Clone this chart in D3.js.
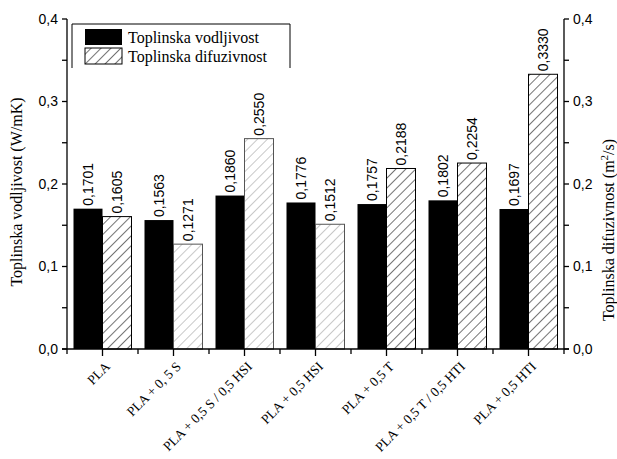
<!DOCTYPE html>
<html><head><meta charset="utf-8">
<script src="https://cdn.jsdelivr.net/npm/d3@7/dist/d3.min.js"></script>
<style>body{margin:0;background:#fff}svg{display:block}</style>
</head><body>
<script>
const categories = ["PLA","PLA + 0, 5 S","PLA + 0,5 S / 0,5 HSI","PLA + 0,5 HSI","PLA + 0,5 T","PLA + 0,5 T / 0,5 HTI","PLA + 0,5 HTI"];
const vodljivost = [0.1701,0.1563,0.1860,0.1776,0.1757,0.1802,0.1697];
const difuzivnost = [0.1605,0.1271,0.2550,0.1512,0.2188,0.2254,0.3330];
const vodLabels = ["0,1701","0,1563","0,1860","0,1776","0,1757","0,1802","0,1697"];
const difLabels = ["0,1605","0,1271","0,2550","0,1512","0,2188","0,2254","0,3330"];
const yTicks = [0,0.1,0.2,0.3,0.4];
const yTickLabels = ["0,0","0,1","0,2","0,3","0,4"];
const yMinor = [0.05,0.15,0.25,0.35];
const lightHatch = [false,true,true,true,false,false,false];
const seriesNames = ["Toplinska vodljivost","Toplinska difuzivnost"];

const W=617,H=459;
const L=67,R=564,T=19,B=349;
const svg=d3.select("body").append("svg").attr("width",W).attr("height",H);
const defs=svg.append("defs");
function hatch(id,color){
  const p=defs.append("pattern").attr("id",id).attr("patternUnits","userSpaceOnUse")
    .attr("width",7).attr("height",7).attr("patternTransform","rotate(45)");
  p.append("line").attr("x1",0).attr("y1",0).attr("x2",0).attr("y2",7)
    .attr("stroke",color).attr("stroke-width",1.1);
}
hatch("h1","#000");
hatch("h2","#999");

const x=d3.scaleBand().domain(categories).range([L,R]).padding(0);
const y=d3.scaleLinear().domain([0,0.4]).range([B,T]);
const y2=d3.scaleLinear().domain([0,0.4]).range([B,T]);
const bw=29;

const sans="'Liberation Sans', Arial, sans-serif";
const serif="'Liberation Serif', 'Times New Roman', serif";

// bars
const g=svg.append("g");
categories.forEach((c,i)=>{
  const cx=x(c)+x.bandwidth()/2;
  g.append("rect").attr("x",cx-bw).attr("y",y(vodljivost[i])).attr("width",bw)
    .attr("height",B-y(vodljivost[i])).attr("fill","#000");
  g.append("rect").attr("x",cx).attr("y",y2(difuzivnost[i])).attr("width",bw)
    .attr("height",B-y2(difuzivnost[i])).attr("fill",lightHatch[i]?"url(#h2)":"url(#h1)")
    .attr("stroke",lightHatch[i]?"#555":"#000").attr("stroke-width",1);
  g.append("text").attr("transform",`translate(${cx-bw/2+5},${y(vodljivost[i])-3}) rotate(-90)`)
    .attr("font-family",sans).attr("font-size",14).text(vodLabels[i]);
  g.append("text").attr("transform",`translate(${cx+bw/2+5},${y2(difuzivnost[i])-3}) rotate(-90)`)
    .attr("font-family",sans).attr("font-size",14).text(difLabels[i]);
});

// axes
const ax=svg.append("g").attr("stroke","#000").attr("stroke-width",1.3);
ax.append("line").attr("x1",L).attr("x2",L).attr("y1",T).attr("y2",B);
ax.append("line").attr("x1",R).attr("x2",R).attr("y1",T).attr("y2",B);
ax.append("line").attr("x1",L-5).attr("x2",R+5).attr("y1",B).attr("y2",B);
yTicks.concat(yMinor).forEach(v=>{
  ax.append("line").attr("x1",L-5).attr("x2",L).attr("y1",y(v)).attr("y2",y(v));
  ax.append("line").attr("x1",R).attr("x2",R+5).attr("y1",y2(v)).attr("y2",y2(v));
});
categories.forEach((c,i)=>{
  const cx=x(c)+x.bandwidth()/2;
  ax.append("line").attr("x1",cx).attr("x2",cx).attr("y1",B).attr("y2",B+7);
  ax.append("line").attr("x1",x(c)).attr("x2",x(c)).attr("y1",B).attr("y2",B+5);
});
ax.append("line").attr("x1",R).attr("x2",R).attr("y1",B).attr("y2",B+5);

yTicks.forEach((v,i)=>{
  svg.append("text").attr("x",L-9).attr("y",y(v)).attr("dy","0.35em").attr("text-anchor","end")
    .attr("font-family",sans).attr("font-size",14).text(yTickLabels[i]);
  svg.append("text").attr("x",R+9).attr("y",y2(v)).attr("dy","0.35em").attr("text-anchor","start")
    .attr("font-family",sans).attr("font-size",14).text(yTickLabels[i]);
});

categories.forEach((c)=>{
  const cx=x(c)+x.bandwidth()/2;
  svg.append("text").attr("transform",`translate(${cx+5},${B+15}) rotate(-45)`)
    .attr("text-anchor","end").attr("dy","0.35em")
    .attr("font-family",serif).attr("font-size",13.5).text(c);
});

// axis titles
svg.append("text").attr("transform",`translate(22,192) rotate(-90)`).attr("text-anchor","middle")
  .attr("font-family",serif).attr("font-size",16).text("Toplinska vodljivost (W/mK)");
const t2=svg.append("text").attr("transform",`translate(614,230) rotate(-90)`).attr("text-anchor","middle")
  .attr("font-family",serif).attr("font-size",16);
t2.append("tspan").text("Toplinska difuzivnost (m");
t2.append("tspan").attr("font-size",11).attr("dy",-6).text("2");
t2.append("tspan").attr("dy",6).text("/s)");

// legend
const lg=svg.append("g");
lg.append("path").attr("d","M72,68 V24 H290 V68").attr("fill","none").attr("stroke","#000").attr("stroke-width",1);
lg.append("rect").attr("x",85).attr("y",29).attr("width",37).attr("height",16).attr("fill","#000");
lg.append("rect").attr("x",85).attr("y",48).attr("width",37).attr("height",16).attr("fill","url(#h1)").attr("stroke","#000");
lg.append("text").attr("x",128).attr("y",43).attr("font-family",serif).attr("font-size",16).text(seriesNames[0]);
lg.append("text").attr("x",128).attr("y",62).attr("font-family",serif).attr("font-size",16).text(seriesNames[1]);
</script>
</body></html>
